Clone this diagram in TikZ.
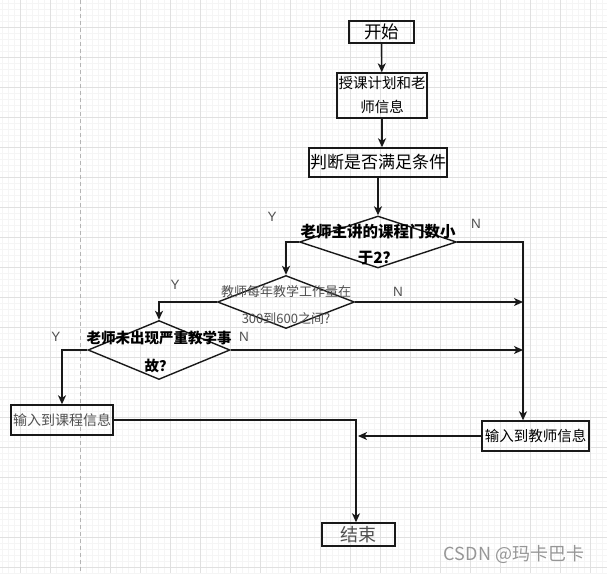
\documentclass[tikz,border=0pt]{standalone}
\usepackage{fontspec}
\setmainfont{Noto Sans CJK SC}
\newfontfamily\ynfont{Liberation Sans}
\usetikzlibrary{arrows.meta,shapes.geometric}
\definecolor{linec}{RGB}{25,25,25}
\definecolor{softgray}{RGB}{80,80,80}
\definecolor{gridmajor}{RGB}{224,224,224}
\definecolor{gridminor}{RGB}{245,245,245}
\definecolor{guidegray}{RGB}{180,180,180}
\definecolor{markgray}{RGB}{150,150,150}

\begin{document}
\begin{tikzpicture}[x=1pt, y=-1pt,
  flowbox/.style={draw=linec, line width=1.4pt, inner sep=0pt, align=center},
  decision/.style={draw=linec, line width=1.4pt, diamond, inner sep=0pt},
  flowarrow/.style={draw=linec, line width=1.4pt, -{Stealth[length=9pt,width=8pt,inset=2.5pt]}},
  ynlabel/.style={font=\ynfont\fontsize{13.5pt}{13.5pt}\selectfont, text=softgray}]
\useasboundingbox (0,0) rectangle (607,573);
% background grid
\foreach \gx in {2,8,...,602} \draw[gridminor, line width=0.6pt] (\gx,0) -- (\gx,573);
\foreach \gy in {3,9,...,573} \draw[gridminor, line width=0.6pt] (0,\gy) -- (607,\gy);
\foreach \gx in {20,50,110,140,...,590} \draw[gridmajor, line width=0.8pt] (\gx,0) -- (\gx,573);
\foreach \gy in {27,57,...,567} \draw[gridmajor, line width=0.8pt] (0,\gy) -- (607,\gy);
\draw[guidegray, line width=0.8pt, dash pattern=on 4pt off 3pt] (80,0) -- (80,573);
% main column
\node[flowbox, minimum width=65pt, minimum height=22pt, font=\fontsize{17.5pt}{17.5pt}\selectfont] (start) at (381.5,32) {开始};
\node[flowbox, minimum width=90pt, minimum height=45pt, font=\fontsize{14.5pt}{24pt}\selectfont] (plan) at (382,95.5) {授课计划和老\\师信息};
\node[flowbox, minimum width=138pt, minimum height=29pt, font=\fontsize{17pt}{17pt}\selectfont] (judge) at (378,162.5) {判断是否满足条件};
% decisions
\node[decision, minimum width=157pt, minimum height=52pt,
  label={[yshift=-3pt, align=center, font=\bfseries\fontsize{15.5pt}{26pt}\selectfont]center:{老师主讲的课程门数小\\于2？}}] (d1) at (378,242) {};
\node[decision, minimum width=137pt, minimum height=53pt,
  label={[yshift=-2.5pt, align=center, text=softgray, font=\fontsize{13pt}{27pt}\selectfont]center:{教师每年教学工作量在\\300到600之间?}}] (d2) at (286,302) {};
\node[decision, minimum width=142pt, minimum height=59pt,
  label={[yshift=-2pt, align=center, font=\bfseries\fontsize{14.5pt}{28pt}\selectfont]center:{老师未出现严重教学事\\故？}}] (d3) at (159,350) {};
% outputs
\node[flowbox, minimum width=102pt, minimum height=30pt, text=softgray, font=\fontsize{14pt}{14pt}\selectfont] (course) at (62,420) {输入到课程信息};
\node[flowbox, minimum width=107pt, minimum height=30pt, font=\fontsize{14.5pt}{14.5pt}\selectfont] (teacher) at (535.5,436) {输入到教师信息};
\node[flowbox, minimum width=73pt, minimum height=23pt, text=softgray, font=\fontsize{18pt}{18pt}\selectfont] (end) at (358.5,534.5) {结束};
\coordinate (nbus) at (523,0);
\coordinate (sbus) at (356,0);
% connectors
\draw[flowarrow] (start) -- (plan);
\draw[flowarrow] (plan.south) -- (plan.south |- judge.north);
\draw[flowarrow] (judge) -- (d1);
\draw[flowarrow] (d1.west) -| (d2.north);
\draw[flowarrow] (d1.east) -| (nbus |- teacher.north);
\draw[flowarrow] (d2.west) -| (d3.north);
\draw[flowarrow] (d2.east) -- (d2.east -| nbus);
\draw[flowarrow] (d3.west) -| (course.north);
\draw[flowarrow] (d3.east) -- (d3.east -| nbus);
\draw[flowarrow] (course.east) -| (sbus |- end.north);
\draw[flowarrow] (teacher.west) -- ([xshift=2pt]teacher.west -| sbus);
% Y / N labels
\node[ynlabel] (y1) at (272,217) {Y};
\node[ynlabel] (n1) at (476,224) {N};
\node[ynlabel] (y2) at (175,285) {Y};
\node[ynlabel] (n2) at (398,292) {N};
\node[ynlabel] (y3) at (56,337) {Y};
\node[ynlabel] (n3) at (244,337) {N};
% watermark
\node[text=markgray, font=\fontsize{18pt}{18pt}\selectfont] (mark) at (514,554) {CSDN @玛卡巴卡};
\end{tikzpicture}
\end{document}
